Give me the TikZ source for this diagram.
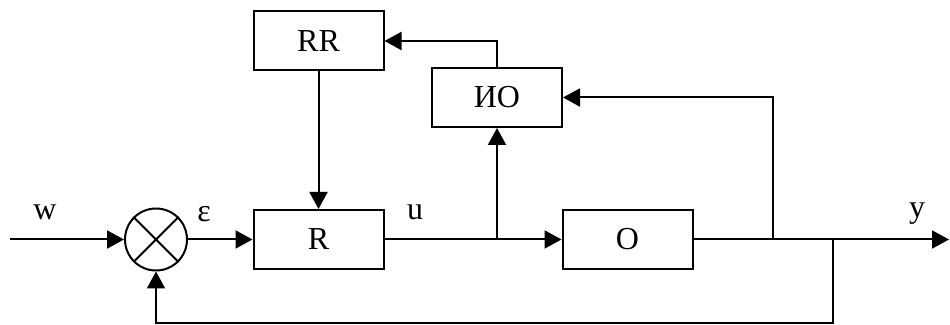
\documentclass[tikz,border=0pt]{standalone}
\usepackage{fontspec}
\setmainfont{Liberation Serif}
\usetikzlibrary{arrows.meta,positioning}

\begin{document}
\begin{tikzpicture}[x=0.5pt,y=-0.5pt,line width=1pt,
      >={Triangle[length=8.5pt,width=9pt]},
      block/.style={draw,rectangle,minimum width=65pt,minimum height=29.5pt,inner sep=0pt},
      summer/.style={draw,circle,minimum size=31pt,inner sep=0pt},
      lbl/.style={inner sep=0pt,anchor=base},
      font=\fontsize{16}{19}\selectfont]
  \useasboundingbox (0,0) rectangle (950,325);
  % blocks
  \node[summer] (sum) at (156,239.5) {};
  \node[block] (R) at (318.5,239.5) {R};
  \node[block] (O) at (627.5,239.5) {O};
  \node[block] (RR) at (318.5,41) {RR};
  \node[block] (IO) at (497,97.5) {ИО};
  \draw (sum.north east) -- (sum.south west)
        (sum.north west) -- (sum.south east);
  % points on the lines
  \coordinate (in) at (10,239.5);
  \coordinate (out) at (949,239.5);
  \coordinate (ju) at (497,239.5);
  \coordinate (jy) at (773,239.5);
  \coordinate (jfb) at (833,239.5);
  \coordinate (fb) at (833,323);
  % labels
  \node[lbl] (lw) at (45,220) {w};
  \node[lbl] (le) at (204,222) {ε};
  \node[lbl] (lu) at (415,220) {u};
  \node[lbl] (ly) at (917,218) {y};
  % connections
  \draw[->] (in) -- (sum);
  \draw[->] (sum) -- (R);
  \draw (R) -- (ju);
  \draw[->] (ju) -- (O);
  \draw[->] (ju) -- (IO);
  \draw (O) -- (jfb);
  \draw[->] (jfb) -- (out);
  \draw[->] (jy) |- (IO);
  \draw[->] (IO.north) |- (RR);
  \draw[->] (RR) -- (R);
  \draw[->] (jfb) -- (fb) -| (sum.south);
\end{tikzpicture}
\end{document}
